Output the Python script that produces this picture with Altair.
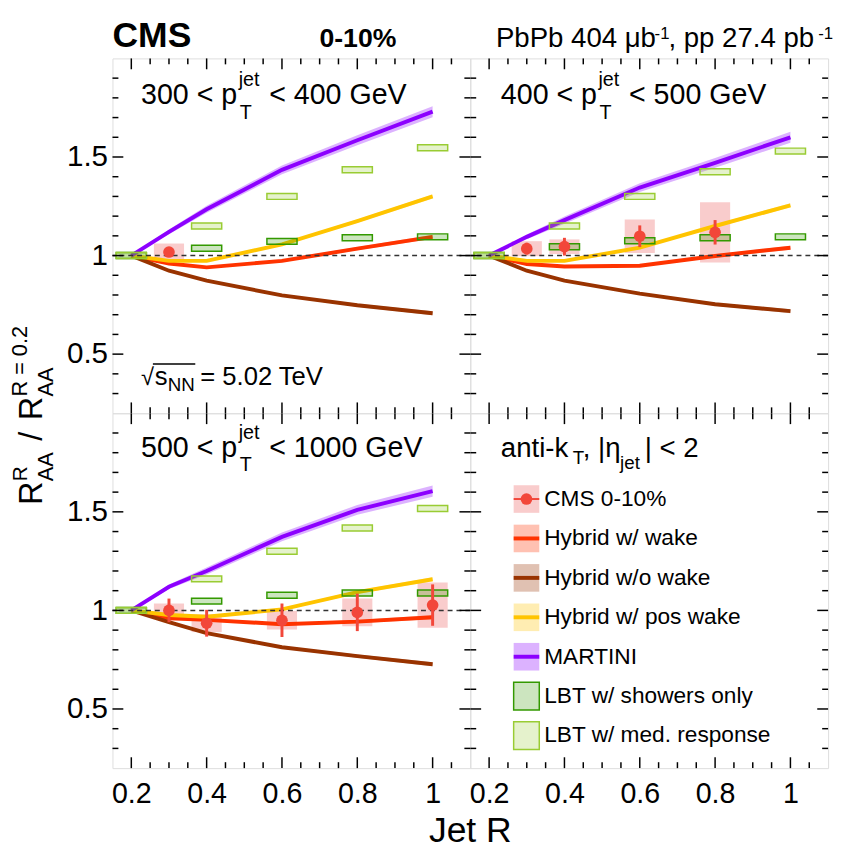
import altair as alt
import pandas as pd

FONT = "Liberation Sans"

# ---------------- data ----------------
R_MODEL = [0.2, 0.3, 0.4, 0.6, 0.8, 1.0]
R_LBT = [0.2, 0.4, 0.6, 0.8, 1.0]

PT_LOW = ["300", "400", "500"]
PT_HIGH = ["400", "500", "1000"]

HYB_WAKE = [
    [1.0, 0.960, 0.940, 0.973, 1.035, 1.095],
    [1.0, 0.957, 0.945, 0.948, 0.998, 1.040],
    [1.0, 0.960, 0.952, 0.930, 0.943, 0.965],
]
HYB_NOWAKE = [
    [1.0, 0.923, 0.873, 0.798, 0.748, 0.707],
    [1.0, 0.923, 0.873, 0.807, 0.753, 0.718],
    [1.0, 0.940, 0.885, 0.813, 0.768, 0.727],
]
HYB_POSWAKE = [
    [1.0, 0.973, 0.973, 1.057, 1.175, 1.300],
    [1.0, 0.973, 0.973, 1.040, 1.150, 1.255],
    [1.0, 0.977, 0.968, 1.005, 1.093, 1.158],
]
MARTINI = [
    [1.0, 1.120, 1.235, 1.435, 1.585, 1.730],
    [1.0, 1.095, 1.180, 1.345, 1.470, 1.600],
    [1.0, 1.120, 1.200, 1.373, 1.510, 1.605],
]
HYB_UNC = [0.0, 0.004, 0.005, 0.006, 0.008, 0.010]
MARTINI_UNC = [0.0, 0.012, 0.018, 0.022, 0.025, 0.028]

LBT_SHOWERS = [
    [1.0, 1.037, 1.072, 1.090, 1.095],
    [1.0, 1.045, 1.075, 1.090, 1.095],
    [1.0, 1.047, 1.077, 1.088, 1.088],
]
LBT_MEDRESP = [
    [1.0, 1.150, 1.300, 1.435, 1.547],
    [1.0, 1.150, 1.300, 1.425, 1.530],
    [1.0, 1.160, 1.300, 1.418, 1.517],
]

CMS_R = [[0.3], [0.3, 0.4, 0.6, 0.8], [0.3, 0.4, 0.6, 0.8, 1.0]]
CMS_VAL = [[1.018], [1.035, 1.045, 1.098, 1.118], [1.000, 0.935, 0.950, 0.990, 1.027]]
CMS_STAT = [[0.012], [0.030, 0.045, 0.055, 0.062], [0.060, 0.068, 0.085, 0.095, 0.105]]
CMS_SYST = [[0.043], [0.038, 0.037, 0.085, 0.153], [0.035, 0.045, 0.047, 0.070, 0.115]]

X_MAJOR = [0.2, 0.4, 0.6, 0.8, 1.0]
X_MINOR = [0.25, 0.3, 0.35, 0.45, 0.5, 0.55, 0.65, 0.7, 0.75, 0.85, 0.9, 0.95, 1.05]
Y_MAJOR = [0.5, 1.0, 1.5]
Y_MINOR = [0.3, 0.4, 0.6, 0.7, 0.8, 0.9, 1.1, 1.2, 1.3, 1.4, 1.6, 1.7, 1.8, 1.9]

MODEL_NAMES = ["Hybrid w/ wake", "Hybrid w/o wake", "Hybrid w/ pos wake", "MARTINI"]
LEGEND_LABELS = ["CMS 0-10%", "Hybrid w/ wake", "Hybrid w/o wake", "Hybrid w/ pos wake",
                 "MARTINI", "LBT w/ showers only", "LBT w/ med. response"]

# ---------------- styles ----------------
LINE_COL = {"Hybrid w/ wake": "#ff3300", "Hybrid w/o wake": "#993300",
            "Hybrid w/ pos wake": "#ffc400", "MARTINI": "#8c00ff"}
CMS_COL = "#f2473a"
CMS_BOX = "#f08080"
LBT_SH_COL = "#339900"
LBT_MR_COL = "#99cc33"
BOX_HALF_R = 0.04
LBT_HALF_V = 0.015

W, H = 363, 360
XS = alt.Scale(domain=[0.15, 1.1], nice=False, zero=False)
YS = alt.Scale(domain=[0.2, 2.0], nice=False, zero=False)
RS = alt.Scale(domain=[-2.175, 6.825], reverse=True, nice=False, zero=False)

XAX = alt.Axis(values=X_MAJOR, format="~g", labelFont=FONT, labelFontSize=29,
               labelPadding=12, ticks=False, tickSize=0, domain=False, grid=False,
               labelFlush=False, labelColor="black", labelOverlap=False)
YAX = alt.Axis(values=Y_MAJOR, format="~g", labelFont=FONT, labelFontSize=30,
               labelPadding=5, ticks=False, tickSize=0, domain=False, grid=False,
               labelFlush=False, labelColor="black", labelOverlap=False)


def txt(s, x, y, size, bold=False, align="left", angle=0, baseline="alphabetic"):
    kw = dict(font=FONT, fontSize=size, align=align, baseline=baseline, color="black")
    if bold:
        kw["fontWeight"] = "bold"
    if angle:
        kw["angle"] = angle
    return alt.Chart(pd.DataFrame({"t": [s]})).mark_text(**kw).encode(
        x=alt.value(x), y=alt.value(y), text="t:N")


def tick_layers(xa, ya):
    out = []
    for vals, L in [(X_MAJOR, 11), (X_MINOR, 6)]:
        df = pd.DataFrame({"v": vals})
        out.append(alt.Chart(df).mark_rule(color="black", strokeWidth=1.5).encode(
            x=alt.X("v:Q", scale=XS, axis=xa, title=None), y=alt.value(H), y2=alt.value(H - L)))
        out.append(alt.Chart(df).mark_rule(color="black", strokeWidth=1.5).encode(
            x=alt.X("v:Q", scale=XS, axis=xa, title=None), y=alt.value(0), y2=alt.value(L)))
    for vals, L in [(Y_MAJOR, 11), (Y_MINOR, 6)]:
        df = pd.DataFrame({"v": vals})
        out.append(alt.Chart(df).mark_rule(color="black", strokeWidth=1.5).encode(
            y=alt.Y("v:Q", scale=YS, axis=ya, title=None), x=alt.value(0), x2=alt.value(L)))
        out.append(alt.Chart(df).mark_rule(color="black", strokeWidth=1.5).encode(
            y=alt.Y("v:Q", scale=YS, axis=ya, title=None), x=alt.value(W), x2=alt.value(W - L)))
    return out


def pt_label(i, x0, y0):
    return [
        txt(PT_LOW[i] + " < p", x0, y0, 29),
        txt("jet", x0 + 99, y0 - 18, 20),
        txt("T", x0 + 100, y0 + 15, 20),
        txt("< " + PT_HIGH[i] + " GeV", x0 + 130, y0, 29),
    ]


def data_layers(i, xa, ya):
    rows = []
    for name, vals, unc in [("Hybrid w/ wake", HYB_WAKE[i], HYB_UNC),
                            ("Hybrid w/o wake", HYB_NOWAKE[i], HYB_UNC),
                            ("Hybrid w/ pos wake", HYB_POSWAKE[i], HYB_UNC),
                            ("MARTINI", MARTINI[i], MARTINI_UNC)]:
        for r, v, u in zip(R_MODEL, vals, unc):
            rows.append(dict(R=r, v=v, lo=v - u, hi=v + u, model=name))
    mdf = pd.DataFrame(rows)
    color = alt.Color("model:N", scale=alt.Scale(domain=MODEL_NAMES,
                      range=[LINE_COL[m] for m in MODEL_NAMES]), legend=None)

    def X(f):
        return alt.X(f, scale=XS, axis=xa, title=None)

    def Y(f):
        return alt.Y(f, scale=YS, axis=ya, title=None)

    bands = alt.Chart(mdf).mark_area(opacity=0.3).encode(
        x=X("R:Q"), y=Y("lo:Q"), y2="hi:Q", color=color)
    lines = alt.Chart(mdf).mark_line(strokeWidth=4).encode(
        x=X("R:Q"), y=Y("v:Q"), color=color)

    def lbt(vals, col):
        df = pd.DataFrame({"R": R_LBT, "v": vals})
        df["x1"] = df["R"] - BOX_HALF_R
        df["x2"] = df["R"] + BOX_HALF_R
        df["y1"] = df["v"] - LBT_HALF_V
        df["y2"] = df["v"] + LBT_HALF_V
        return alt.Chart(df).mark_rect(fill=col, fillOpacity=0.25, stroke=col, strokeWidth=1.5).encode(
            x=X("x1:Q"), x2="x2:Q", y=Y("y1:Q"), y2="y2:Q")

    cdf = pd.DataFrame({"R": CMS_R[i], "v": CMS_VAL[i], "stat": CMS_STAT[i], "syst": CMS_SYST[i]})
    cdf["x1"] = cdf["R"] - BOX_HALF_R
    cdf["x2"] = cdf["R"] + BOX_HALF_R
    cdf["s1"] = cdf["v"] - cdf["syst"]
    cdf["s2"] = cdf["v"] + cdf["syst"]
    cdf["e1"] = cdf["v"] - cdf["stat"]
    cdf["e2"] = cdf["v"] + cdf["stat"]
    syst = alt.Chart(cdf).mark_rect(fill=CMS_BOX, fillOpacity=0.4).encode(
        x=X("x1:Q"), x2="x2:Q", y=Y("s1:Q"), y2="s2:Q")
    err = alt.Chart(cdf).mark_rule(color=CMS_COL, strokeWidth=3).encode(
        x=X("R:Q"), y=Y("e1:Q"), y2="e2:Q")
    pts = alt.Chart(cdf).mark_circle(size=140, color=CMS_COL, opacity=1).encode(
        x=X("R:Q"), y=Y("v:Q"))
    dashed = alt.Chart(pd.DataFrame({"y": [1.0]})).mark_rule(
        strokeDash=[5, 4], color="#333333", strokeWidth=1.5).encode(y=Y("y:Q"))
    return [syst, bands, lines, lbt(LBT_SHOWERS[i], LBT_SH_COL), lbt(LBT_MEDRESP[i], LBT_MR_COL),
            dashed, err, pts]


# ---------------- panels ----------------
anchor = alt.Chart(pd.DataFrame({"a": [0]})).mark_rule(opacity=0, strokeWidth=1).encode(
    x=alt.value(-105), x2=alt.value(-104), y=alt.value(-44), y2=alt.value(-43))

header = [
    txt("CMS", 0, -12, 36, bold=True),
    txt("0-10%", 249, -12, 27, bold=True, align="center"),
    txt("PbPb 404 \u03bcb", 389, -12, 28),
    txt("-1", 550, -20, 17),
    txt(", pp 27.4 pb", 564, -12, 28),
    txt("-1", 716, -20, 17),
]
ytitle = [
    txt("R", -72, 453, 33, angle=270),
    txt("AA", -60, 429, 22, angle=270),
    txt("R", -87, 429, 21, angle=270),
    txt("/", -72, 388, 33, angle=270),
    txt("R", -72, 367, 33, angle=270),
    txt("AA", -60, 343, 22, angle=270),
    txt("R = 0.2", -87, 343, 22, angle=270),
]
sqrt_s = [
    txt("\u221a", 29, 331, 24),
    txt("s", 43, 331, 26),
    txt("NN", 56, 337, 19),
    txt("= 5.02 TeV", 89, 331, 26),
    alt.Chart(pd.DataFrame({"a": [0]})).mark_rule(color="black", strokeWidth=1.5).encode(
        x=alt.value(41), x2=alt.value(84), y=alt.value(310)),
]

TL = alt.layer(*(data_layers(0, None, YAX) + tick_layers(None, YAX) + pt_label(0, 29, 46)
                 + header + ytitle + sqrt_s + [anchor])).properties(width=W, height=H)
TR = alt.layer(*(data_layers(1, None, None) + tick_layers(None, None) + pt_label(1, 31, 46))).properties(
    width=W, height=H)
BL = alt.layer(*(data_layers(2, XAX, YAX) + tick_layers(XAX, YAX) + pt_label(2, 29, 44)
                 + [txt("Jet R", 363, 435, 36, align="center")])).properties(width=W, height=H)

# legend panel
leg = pd.DataFrame({"row": list(range(len(LEGEND_LABELS))), "label": LEGEND_LABELS})
leg["r1"] = leg["row"] - 0.35
leg["r2"] = leg["row"] + 0.35
leg["fill"] = [CMS_BOX] + [LINE_COL[m] for m in MODEL_NAMES] + [LBT_SH_COL, LBT_MR_COL]
leg["fo"] = [0.4, 0.3, 0.3, 0.3, 0.3, 0.25, 0.25]
leg["stroke"] = ["transparent"] * 5 + [LBT_SH_COL, LBT_MR_COL]
leg["sw"] = [0, 0, 0, 0, 0, 1.5, 1.5]
leg_lines = leg.iloc[:5].copy()
leg_lines["line"] = [CMS_COL] + [LINE_COL[m] for m in MODEL_NAMES]
leg_lines["lw"] = [2, 4, 4, 4, 4]

sw = alt.Chart(leg).mark_rect().encode(
    x=alt.value(44), x2=alt.value(70),
    y=alt.Y("r1:Q", scale=RS, axis=None, title=None), y2="r2:Q",
    fill=alt.Fill("fill:N", scale=None), fillOpacity=alt.FillOpacity("fo:Q", scale=None),
    stroke=alt.Stroke("stroke:N", scale=None), strokeWidth=alt.StrokeWidth("sw:Q", scale=None))
ln = alt.Chart(leg_lines).mark_rule().encode(
    x=alt.value(44), x2=alt.value(70), y=alt.Y("row:Q", scale=RS, axis=None, title=None),
    stroke=alt.Stroke("line:N", scale=None), strokeWidth=alt.StrokeWidth("lw:Q", scale=None))
mk = alt.Chart(leg.iloc[:1]).mark_circle(size=140, color=CMS_COL, opacity=1).encode(
    x=alt.value(57), y=alt.Y("row:Q", scale=RS, axis=None, title=None))
lt = alt.Chart(leg).mark_text(font=FONT, fontSize=23, align="left", baseline="middle",
                              color="black").encode(
    x=alt.value(75), y=alt.Y("row:Q", scale=RS, axis=None, title=None), text="label:N")
akt = [
    txt("anti-k", 31, 44, 28),
    txt("T", 104, 51, 19),
    txt(", |\u03b7", 114, 44, 28),
    txt("jet", 152, 57, 19),
    txt("| < 2", 177, 44, 28),
]
BR = alt.layer(*(tick_layers(XAX, None) + [sw, ln, mk, lt] + akt)).resolve_scale(
    y="independent").properties(width=W, height=H)

chart = alt.concat(TL, TR, BL, BR, columns=2, spacing=0, bounds="flush").properties(
    padding=0).configure_view(stroke="black", strokeWidth=2).configure(font=FONT)

chart.save("out.html", embed_options={"renderer": "svg", "actions": False})
